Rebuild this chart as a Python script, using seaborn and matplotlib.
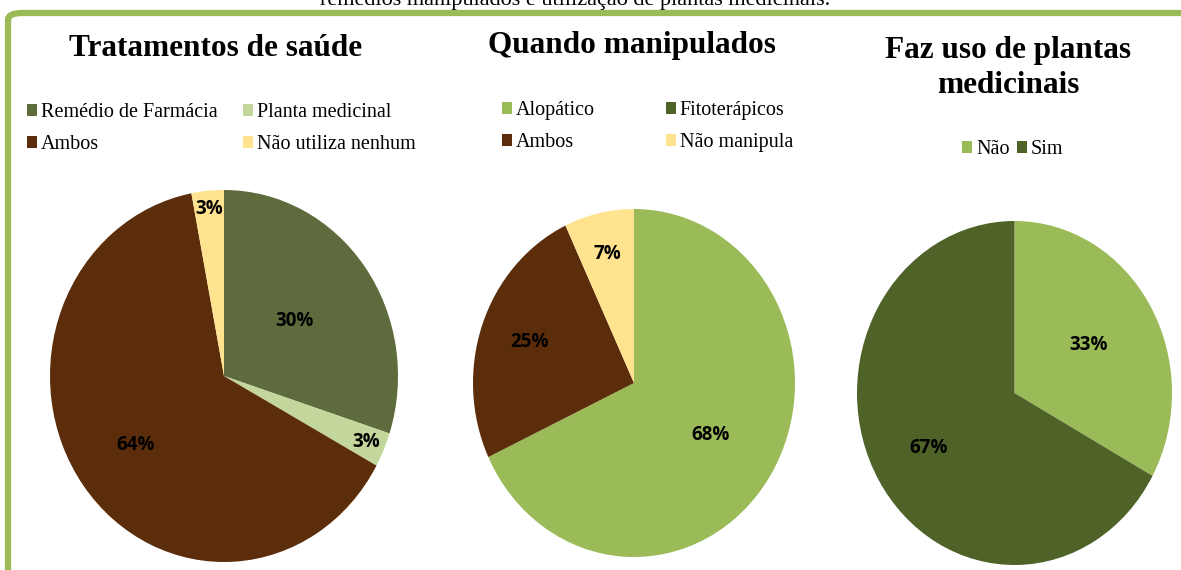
import matplotlib
matplotlib.use("Agg")
import numpy as np
import matplotlib.pyplot as plt
import seaborn as sns
from matplotlib.patches import Patch, FancyBboxPatch

sns.set_theme(style="white")
plt.rcParams["font.family"] = ["Liberation Serif", "DejaVu Serif"]
plt.rcParams["text.color"] = "black"

# ---------------------------------------------------------------------------
# data
# ---------------------------------------------------------------------------
trat_labels = ["Remédio de Farmácia", "Planta medicinal", "Ambos", "Não utiliza nenhum"]
trat_values = [30, 3, 64, 3]

manip_labels = ["Alopático", "Fitoterápicos", "Ambos", "Não manipula"]
manip_values = [68, 0, 25, 7]

plantas_labels = ["Não", "Sim"]
plantas_values = [33, 67]

titles = ["Tratamentos de saúde", "Quando manipulados", "Faz uso de plantas\nmedicinais"]
caption = "remédios manipulados e utilização de plantas medicinais."

# colours
trat_colors = ["#5E6B3C", "#C3D69B", "#5C2D0A", "#FFE38F"]
manip_colors = ["#9BBB59", "#4F6228", "#5C2D0A", "#FFE38F"]
plantas_colors = ["#9BBB59", "#4F6228"]

W, H = 1181, 570
fig = plt.figure(figsize=(W / 100, H / 100), dpi=100)


def px_axes(x0, y0, x1, y1):
    # pixel box (top-left origin) -> figure axes
    return fig.add_axes([x0 / W, 1 - y1 / H, (x1 - x0) / W, (y1 - y0) / H])


def draw_pie(box, values, colors, dists):
    ax = px_axes(*box)
    wedges, _ = ax.pie(values, colors=colors, startangle=90, counterclock=False,
                       radius=1, wedgeprops=dict(linewidth=0))
    ax.set_aspect("auto")
    ax.set_xlim(-1, 1)
    ax.set_ylim(-1, 1)
    for w, v, d in zip(wedges, values, dists):
        if v == 0:
            continue
        ang = np.deg2rad((w.theta1 + w.theta2) / 2)
        ax.text(d * np.cos(ang), d * np.sin(ang), f"{v}%", ha="center", va="center",
                fontsize=13.5, fontweight="bold", family=["Open Sans", "DejaVu Sans"],
                color="black")
    return ax


draw_pie((50, 190, 398, 562), trat_values, trat_colors, [0.5, 0.89, 0.63, 0.9])
draw_pie((473, 209, 795, 557), manip_values, manip_colors, [0.56, 0.6, 0.69, 0.76])
draw_pie((857, 221, 1172, 565), plantas_values, plantas_colors, [0.55, 0.63])

# titles
fig.text(216 / W, 1 - 49 / H, titles[0], ha="center", va="center",
         fontsize=22.5, fontweight="bold")
fig.text(632 / W, 1 - 46 / H, titles[1], ha="center", va="center",
         fontsize=22.5, fontweight="bold")
fig.text(1008 / W, 1 - 68 / H, titles[2], ha="center", va="center",
         fontsize=22.5, fontweight="bold", linespacing=1.3)

# caption cut off at the top
fig.text(575 / W, 1 - 1 / H, caption, ha="center", va="center", fontsize=16)


def add_legend(labels, colors, order, ncol, anchor, colspacing):
    handles = [Patch(facecolor=c, edgecolor="none") for c in colors]
    hs = [handles[i] for i in order]
    ls = [labels[i] for i in order]
    fig.legend(hs, ls, ncol=ncol, loc="upper left",
               bbox_to_anchor=(anchor[0] / W, 1 - anchor[1] / H),
               frameon=False, fontsize=14.5, handlelength=0.5, handleheight=0.5,
               handletextpad=0.2, columnspacing=colspacing, labelspacing=0.65,
               borderpad=0, borderaxespad=0)


add_legend(trat_labels, trat_colors, [0, 2, 1, 3], 2, (27, 103), 1.25)
add_legend(manip_labels, manip_colors, [0, 2, 1, 3], 2, (502, 101), 3.5)
add_legend(plantas_labels, plantas_colors, [0, 1], 2, (962, 140), 0.35)

# green frame
fig.add_artist(FancyBboxPatch((8 / W, -0.2), 1.1, 1 - 13 / H + 0.2,
                              boxstyle="round,pad=0,rounding_size=0.012",
                              transform=fig.transFigure, facecolor="none",
                              edgecolor="#9BBB59", linewidth=4.5, clip_on=False))

fig.savefig("out.png", dpi=100, facecolor="white")
